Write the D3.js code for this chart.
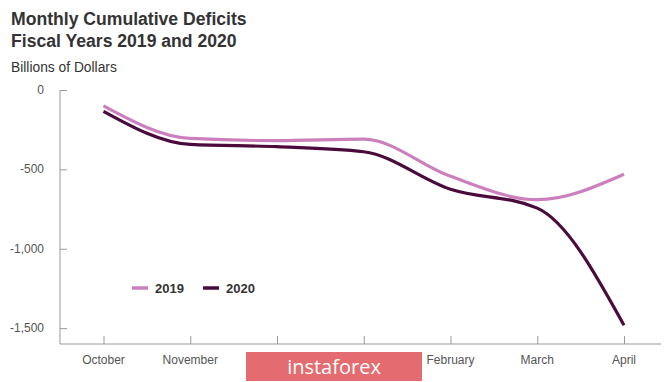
<!DOCTYPE html>
<html><head><meta charset="utf-8">
<script src="https://cdn.jsdelivr.net/npm/d3@7/dist/d3.min.js"></script>
<style>body{margin:0;background:#fff;}svg{display:block;font-family:"Liberation Sans",Arial,sans-serif;}</style>
</head><body><svg id="c" width="665" height="382"></svg>
<script>
const months = ["October","November","December","January","February","March","April"];
const fy2019 = [-100,-305,-319,-310,-544,-691,-531];
const fy2020 = [-134,-343,-357,-389,-625,-744,-1482];
const yTicks = [0,-500,-1000,-1500];
const seriesNames = ["2019","2020"];
const seriesColors = ["#cc7fbd","#4a0b3c"];
// months whose labels are hidden under the watermark in the reference
const hiddenLabels = ["December","January"];

const svg = d3.select("#c");
const x = d3.scalePoint().domain(months).range([103.5,624]);
const y = d3.scaleLinear().domain([0,-1600]).range([90,344]);

// titles
svg.append("text").attr("x",11).attr("y",25).attr("font-size",17.6).attr("font-weight","bold").attr("fill","#333").text("Monthly Cumulative Deficits");
svg.append("text").attr("x",11).attr("y",47).attr("font-size",17.6).attr("font-weight","bold").attr("fill","#333").text("Fiscal Years 2019 and 2020");
svg.append("text").attr("x",11).attr("y",72).attr("font-size",13.8).attr("fill","#333").text("Billions of Dollars");

// y axis
const yAxis = svg.append("g").attr("transform","translate(60,0)")
  .call(d3.axisRight(y).tickValues(yTicks).tickSize(7).tickFormat(()=>""));
yAxis.select(".domain").remove();
yAxis.selectAll("line").attr("stroke","#999");
svg.append("line").attr("x1",60).attr("x2",60).attr("y1",y(0)).attr("y2",344).attr("stroke","#999");
svg.selectAll(".ylab").data(yTicks).enter().append("text")
  .attr("x",44).attr("y",d=>y(d)+4).attr("text-anchor","end").attr("font-size",12).attr("fill","#555")
  .text(d=>d3.format(",")(d).replace("\u2212","-"));

// x axis
const xAxis = svg.append("g").attr("transform","translate(0,344)")
  .call(d3.axisTop(x).tickSize(8).tickFormat(()=>""));
xAxis.select(".domain").remove();
xAxis.selectAll("line").attr("stroke","#999");
svg.append("line").attr("x1",60).attr("x2",661).attr("y1",344).attr("y2",344).attr("stroke","#999");
svg.selectAll(".xlab").data(months.filter(m=>!hiddenLabels.includes(m))).enter().append("text")
  .attr("x",d=>x(d)).attr("y",364).attr("text-anchor","middle").attr("font-size",12).attr("fill","#555")
  .text(d=>d);

// lines
const line = d3.line().x((d,i)=>x(months[i])).y(d=>y(d)).curve(d3.curveMonotoneX);
[fy2019,fy2020].forEach((s,i)=>{
  svg.append("path").attr("d",line(s)).attr("fill","none").attr("stroke",seriesColors[i]).attr("stroke-width",3.2).attr("stroke-linecap","butt");
});

// legend
const legX = [132,203];
seriesNames.forEach((n,i)=>{
  svg.append("line").attr("x1",legX[i]).attr("x2",legX[i]+16).attr("y1",288).attr("y2",288).attr("stroke",seriesColors[i]).attr("stroke-width",3.5);
  svg.append("text").attr("x",legX[i]+23).attr("y",293).attr("font-size",13).attr("font-weight","bold").attr("fill","#333").text(n);
});

// watermark
svg.append("rect").attr("x",246).attr("y",352).attr("width",176).attr("height",29).attr("fill","#e46b6f");
svg.append("text").attr("x",334).attr("y",374).attr("text-anchor","middle").attr("font-size",20).attr("fill","#fff")
  .attr("font-family","'Open Sans',sans-serif").text("instaforex");
</script></body></html>
